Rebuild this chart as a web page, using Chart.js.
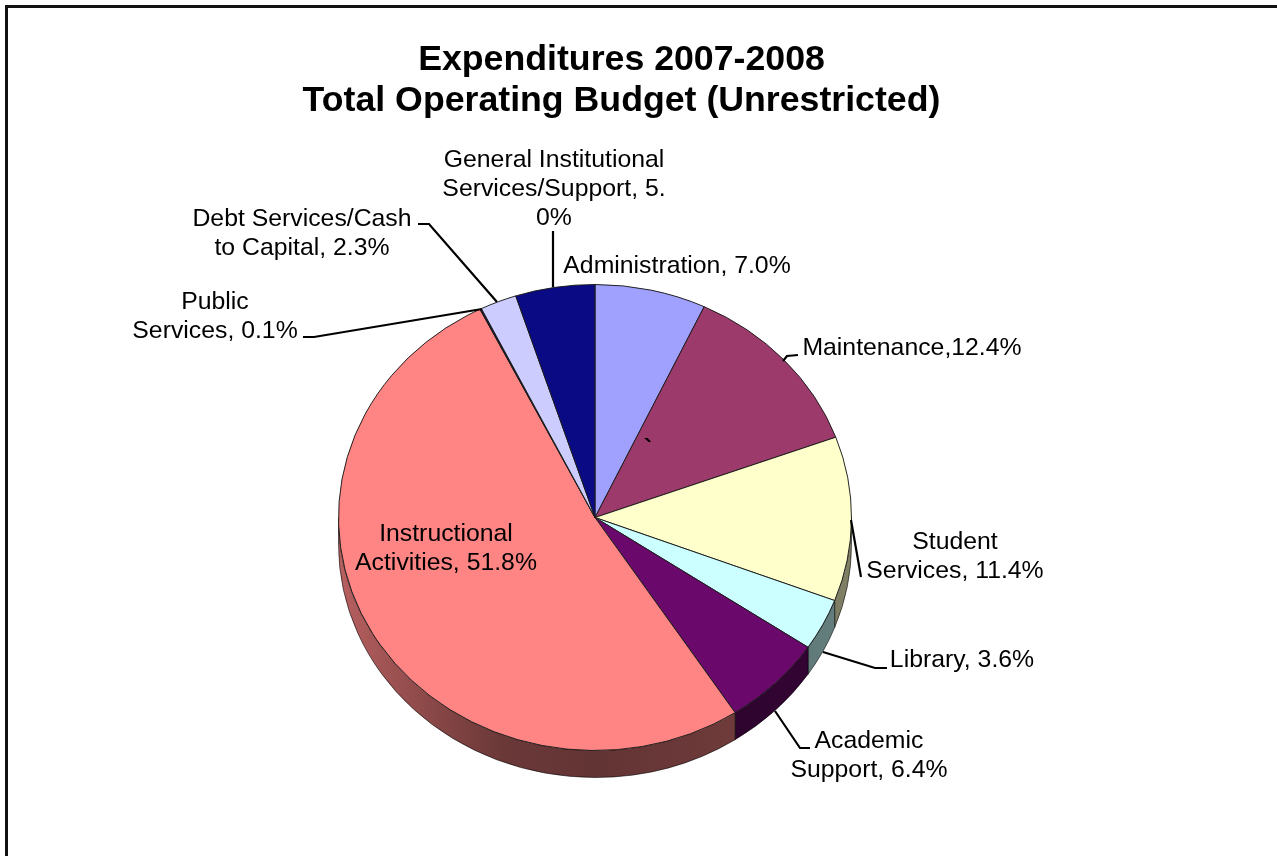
<!DOCTYPE html>
<html>
<head>
  <title>Expenditures 2007-2008</title>
  <script src="https://cdnjs.cloudflare.com/ajax/libs/Chart.js/4.4.1/chart.umd.min.js"></script>
  <style>
    html, body {
      margin: 0;
      padding: 0;
      overflow: hidden;
      background: #fff;
    }
    .chart-container {
      position: relative;
      width: 1277px;
      height: 856px;
      box-sizing: border-box;
      border-top: 3px solid #111;
      border-left: 3px solid #111;
      margin: 5px 0 0 5px;
    }
  </style>
</head>
<body>
  <div class="chart-container"><canvas id="budgetChart" width="1277" height="856"></canvas></div>

  <script>
    const titleLines = ['Expenditures 2007-2008', 'Total Operating Budget (Unrestricted)'];
    const categories = ['Administration', 'Maintenance', 'Student Services', 'Library', 'Academic Support',
      'Instructional Activities', 'Public Services', 'Debt Services/Cash to Capital', 'General Institutional Services/Support'];
    const shares = [7.0, 12.4, 11.4, 3.6, 6.4, 51.8, 0.1, 2.3, 5.0];
    const sliceColors = ['#a0a0ff', '#9c3a6b', '#ffffcc', '#ccffff', '#6b086b', '#ff8585', '#101030', '#ccccff', '#0a0a85'];
    const labelLines = [
      ['Administration, 7.0%'],
      ['Maintenance,12.4%'],
      ['Student', 'Services, 11.4%'],
      ['Library, 3.6%'],
      ['Academic', 'Support, 6.4%'],
      ['Instructional', 'Activities, 51.8%'],
      ['Public', 'Services, 0.1%'],
      ['Debt Services/Cash', 'to Capital, 2.3%'],
      ['General Institutional', 'Services/Support, 5.', '0%']
    ];

    // page position of each label (centre x, first baseline y) and its leader line
    const labelPos = [[677, 273], [912, 355], [955, 549], [962, 667], [869, 748], [446, 541], [215, 309], [302, 226], [554, 167]];
    const leaders = [
      null,
      [[783, 361], [787, 356], [798, 355]],
      [[851, 520], [861, 577]],
      [[823, 652], [875, 668], [887, 668]],
      [[775, 711], [800, 748], [810, 748]],
      null,
      [[482, 309], [314, 337], [303, 337]],
      [[497, 302], [429, 224], [418, 224]],
      [[553, 287], [553, 231]]
    ];

    const pieCenter = { x: 595, y: 517.5 };
    const pieRadius = 256.5;
    const squash = 233 / 256.5;
    const depth = 27;
    const frameOffset = 8; // canvas sits inside the frame lines
    const labelFont = '24.8px "Liberation Sans", Arial, sans-serif';

    function shade(hex, f) {
      const n = parseInt(hex.slice(1), 16);
      return `rgb(${(n >> 16 & 255) * f}, ${(n >> 8 & 255) * f}, ${(n & 255) * f})`;
    }

    // moves the circle Chart.js draws onto the squashed pie position
    function pieTransform(ctx, arc) {
      ctx.translate(pieCenter.x - frameOffset, pieCenter.y - frameOffset);
      ctx.scale(1, squash);
      ctx.translate(-arc.x, -arc.y);
    }

    const tiltedPie = {
      id: 'tiltedPie',
      beforeDatasetsDraw(chart) {
        const ctx = chart.ctx;
        const arcs = chart.getDatasetMeta(0).data;
        ctx.save();
        pieTransform(ctx, arcs[0]);
        const d = depth / squash;

        // side wall, only the part of each slice facing the viewer
        arcs.forEach((arc, i) => {
          const start = Math.max(arc.startAngle, 0);
          const end = Math.min(arc.endAngle, Math.PI);
          if (end <= start) return;
          const g = ctx.createLinearGradient(arc.x - pieRadius, 0, arc.x + pieRadius, 0);
          g.addColorStop(0, shade(sliceColors[i], 0.72));
          g.addColorStop(0.2, shade(sliceColors[i], 0.52));
          g.addColorStop(0.32, shade(sliceColors[i], 0.42));
          g.addColorStop(0.5, shade(sliceColors[i], 0.39));
          g.addColorStop(0.8, shade(sliceColors[i], 0.44));
          g.addColorStop(1, shade(sliceColors[i], 0.5));
          ctx.beginPath();
          ctx.arc(arc.x, arc.y, pieRadius, start, end);
          ctx.arc(arc.x, arc.y + d, pieRadius, end, start, true);
          ctx.closePath();
          ctx.fillStyle = g;
          ctx.fill();
          ctx.strokeStyle = 'rgba(0, 0, 0, 0.75)';
          ctx.lineWidth = 0.8;
          ctx.stroke();
        });
        ctx.restore();

        // same transform for the slices themselves
        ctx.save();
        pieTransform(ctx, arcs[0]);
      },
      afterDatasetsDraw(chart) {
        const ctx = chart.ctx;
        ctx.restore();

        ctx.save();
        ctx.translate(-frameOffset, -frameOffset);
        ctx.strokeStyle = '#000';
        ctx.lineWidth = 2.2;
        leaders.forEach(pts => {
          if (!pts) return;
          ctx.beginPath();
          pts.forEach((p, k) => k ? ctx.lineTo(p[0], p[1]) : ctx.moveTo(p[0], p[1]));
          ctx.stroke();
        });

        ctx.fillStyle = '#000';
        ctx.font = labelFont;
        ctx.textAlign = 'center';
        ctx.textBaseline = 'alphabetic';
        labelLines.forEach((lines, i) => {
          lines.forEach((line, k) => {
            ctx.fillText(line, labelPos[i][0], labelPos[i][1] + k * 28.8);
          });
        });
        ctx.font = 'bold ' + labelFont;
        ctx.fillText('`', 648, 456); // stray mark in the original slide
        ctx.restore();
      }
    };

    new Chart(document.getElementById('budgetChart'), {
      type: 'pie',
      data: {
        labels: categories,
        datasets: [{
          data: shares,
          backgroundColor: sliceColors,
          borderColor: '#1a1a1a',
          borderWidth: 1,
          radius: pieRadius
        }]
      },
      plugins: [tiltedPie],
      options: {
        responsive: false,
        animation: false,
        layout: { padding: { right: 50 } },
        plugins: {
          legend: { display: false },
          tooltip: { enabled: false },
          title: {
            display: true,
            text: titleLines,
            color: '#000',
            font: { family: '"Liberation Sans", Arial, sans-serif', size: 35.7, weight: 'bold', lineHeight: 1.15 },
            padding: { top: 32, bottom: 10 }
          }
        }
      }
    });
  </script>
</body>
</html>
